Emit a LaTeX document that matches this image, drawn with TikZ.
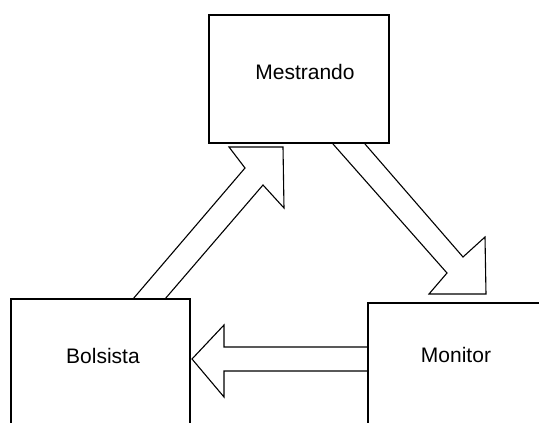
\documentclass[tikz,border=0pt]{standalone}
\usepackage{fontspec}
\setmainfont{Liberation Sans}
\begin{document}
\begin{tikzpicture}[x=1pt,y=-1pt,
  box/.style={draw=black,line width=1.1pt},
  blockarrow/.style={draw=black,line width=1.1pt,fill=white,line join=miter},
  label/.style={font=\fontsize{21}{24}\selectfont,inner sep=0pt}]
  \useasboundingbox (0,0) rectangle (539,423);
  \clip (0,0) rectangle (539,423);

  % Bolsista -> Mestrando
  \draw[blockarrow] (133,299) -- (245,168) -- (229,147) -- (283,147)
    -- (284,208) -- (263,185) -- (165,299);

  % Mestrando -> Monitor
  \draw[blockarrow] (333,144) -- (447,273) -- (429,294) -- (486,294)
    -- (485,237) -- (463,257) -- (365,144);

  % Monitor -> Bolsista
  \draw[blockarrow] (368,347) -- (224,347) -- (224,325) -- (192,359)
    -- (224,397) -- (224,371) -- (368,371);

  % boxes (the lower two run off the page)
  \draw[box] (209,15) rectangle (389,143);
  \draw[box] (11,440) -- (11,299) -- (190,299) -- (190,440);
  \draw[box] (368,440) -- (368,303) -- (560,303);

  \node[label] (mestrando) at (305,72) {Mestrando};
  \node[label] (bolsista) at (103,356) {Bolsista};
  \node[label] (monitor) at (456,355) {Monitor};
\end{tikzpicture}
\end{document}
